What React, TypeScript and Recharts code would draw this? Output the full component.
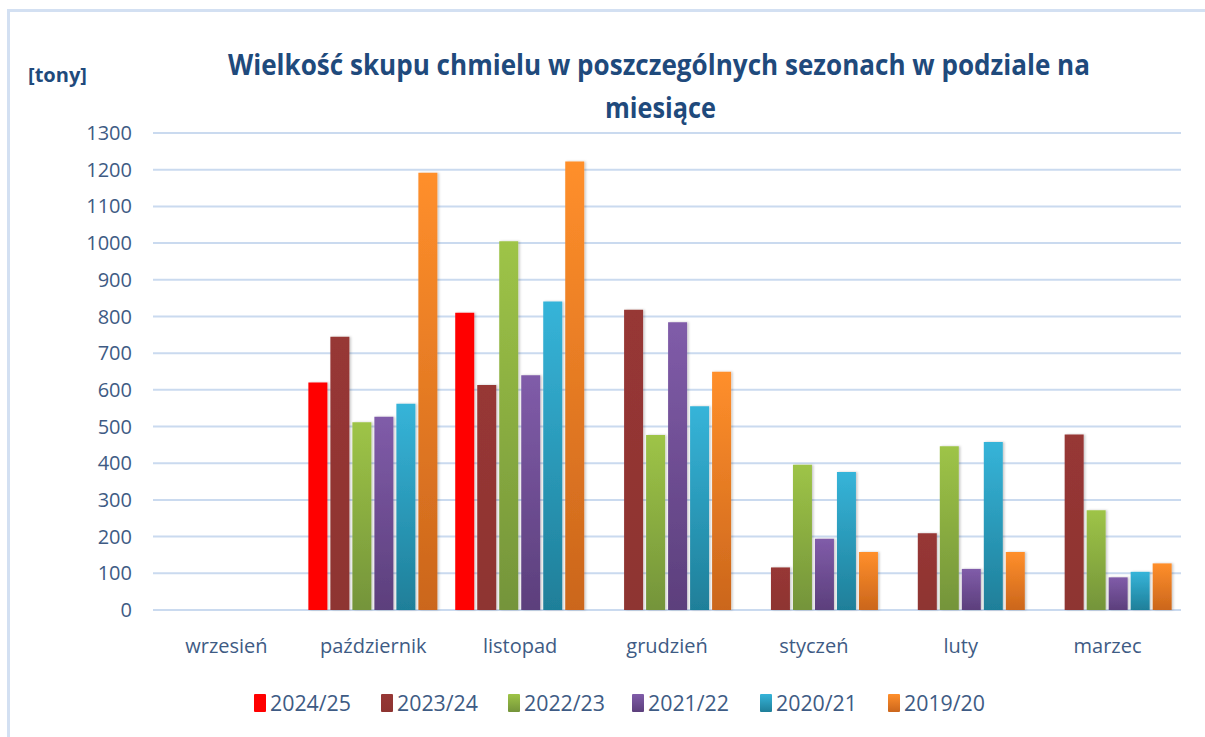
import React from 'react';
import { BarChart, Bar, XAxis, YAxis, CartesianGrid } from 'recharts';

const months = ['wrzesień', 'październik', 'listopad', 'grudzień', 'styczeń', 'luty', 'marzec'];
const seasons = ['2024/25', '2023/24', '2022/23', '2021/22', '2020/21', '2019/20'];
const s2024_25 = [null, 620, 810, null, null, null, null];
const s2023_24 = [null, 745, 613, 818, 116, 209, 478];
const s2022_23 = [null, 512, 1005, 477, 396, 446, 272];
const s2021_22 = [null, 527, 640, 784, 194, 112, 89];
const s2020_21 = [null, 562, 841, 555, 376, 458, 104];
const s2019_20 = [null, 1192, 1222, 649, 158, 158, 127];
const yTicks = [0, 100, 200, 300, 400, 500, 600, 700, 800, 900, 1000, 1100, 1200, 1300];
const titleLine1 = 'Wielkość skupu chmielu w poszczególnych sezonach w podziale na';
const titleLine2 = 'miesiące';
const unitLabel = '[tony]';

const seriesValues = [s2024_25, s2023_24, s2022_23, s2021_22, s2020_21, s2019_20];
const gradients = [
  { id: 'g0', top: '#FF0000', bottom: '#FF0000' },
  { id: 'g1', top: '#973735', bottom: '#8E3431' },
  { id: 'g2', top: '#9EC447', bottom: '#74943A' },
  { id: 'g3', top: '#805CA9', bottom: '#5C3F7C' },
  { id: 'g4', top: '#36B4D9', bottom: '#1F7F99' },
  { id: 'g5', top: '#FF8F2B', bottom: '#CB661C' },
];

const data = months.map((m, i) => {
  const row: any = { month: m };
  seasons.forEach((s, k) => {
    row[s] = seriesValues[k][i];
  });
  return row;
});

const FONT = '"Open Sans", sans-serif';
const AXIS_COLOR = '#3E5B84';
const TITLE_COLOR = '#1F4A7C';
const legendX = [254, 381, 508, 632, 760, 888];

export default function App() {
  return (
    <div style={{ position: 'absolute', left: 0, top: 0, width: 1205, height: 737, background: '#fff', overflow: 'hidden' }}>
      <div
        style={{
          position: 'absolute',
          left: 7,
          top: 9,
          width: 1300,
          height: 800,
          borderTop: '3px solid #D3E0F2',
          borderLeft: '3px solid #D3E0F2',
        }}
      />
      <div style={{ position: 'absolute', left: 0, top: 0 }}>
        <BarChart
          width={1205}
          height={737}
          data={data}
          margin={{ top: 133, right: 24, bottom: 67, left: 0 }}
          barCategoryGap="5.8%"
          barGap={3}
        >
          <defs>
            {gradients.map((g) => (
              <linearGradient key={g.id} id={g.id} x1="0" y1="0" x2="0" y2="1">
                <stop offset="0%" stopColor={g.top} />
                <stop offset="100%" stopColor={g.bottom} />
              </linearGradient>
            ))}
            <filter id="barShadow" x="-20%" y="-5%" width="150%" height="110%">
              <feDropShadow dx="1.5" dy="0" stdDeviation="1.2" floodColor="#000" floodOpacity="0.22" />
            </filter>
          </defs>
          <CartesianGrid vertical={false} stroke="#CADAEF" strokeWidth={2} />
          <XAxis
            dataKey="month"
            axisLine={false}
            tickLine={false}
            tickSize={6}
            tickMargin={23}
            height={60}
            interval={0}
            tick={{ fill: AXIS_COLOR, fontSize: 20, fontFamily: FONT }}
          />
          <YAxis
            domain={[0, 1300]}
            ticks={yTicks}
            axisLine={false}
            tickLine={false}
            tickSize={6}
            tickMargin={15}
            width={153}
            interval={0}
            tick={{ fill: AXIS_COLOR, fontSize: 20, fontFamily: FONT }}
          />
          {seasons.map((s, k) => (
            <Bar
              key={s}
              dataKey={s}
              fill={`url(#${gradients[k].id})`}
              isAnimationActive={false}
              style={{ filter: 'url(#barShadow)' }}
            />
          ))}
        </BarChart>
      </div>
      <svg
        width={1205}
        height={737}
        style={{ position: 'absolute', left: 0, top: 0, pointerEvents: 'none' }}
      >
        <text
          x={228}
          y={75}
          fontFamily={FONT}
          fontWeight={700}
          fontSize={29}
          fill={TITLE_COLOR}
          textLength={862}
          lengthAdjust="spacingAndGlyphs"
        >
          {titleLine1}
        </text>
        <text
          x={605}
          y={118}
          fontFamily={FONT}
          fontWeight={700}
          fontSize={29}
          fill={TITLE_COLOR}
          textLength={111}
          lengthAdjust="spacingAndGlyphs"
        >
          {titleLine2}
        </text>
        <text
          x={28}
          y={82}
          fontFamily={FONT}
          fontWeight={700}
          fontSize={20}
          fill={TITLE_COLOR}
          textLength={59}
          lengthAdjust="spacingAndGlyphs"
        >
          {unitLabel}
        </text>
        <defs>
          {gradients.map((g) => (
            <linearGradient key={g.id} id={`L${g.id}`} x1="0" y1="0" x2="0" y2="1">
              <stop offset="0%" stopColor={g.top} />
              <stop offset="100%" stopColor={g.bottom} />
            </linearGradient>
          ))}
        </defs>
        {seasons.map((s, k) => (
          <g key={s}>
            <rect x={legendX[k]} y={694} width={12} height={18} rx={1} fill={`url(#L${gradients[k].id})`} />
            <text
              x={legendX[k] + 16}
              y={711}
              fontFamily={FONT}
              fontSize={22}
              fill={AXIS_COLOR}
              textLength={81}
              lengthAdjust="spacingAndGlyphs"
            >
              {s}
            </text>
          </g>
        ))}
      </svg>
    </div>
  );
}
